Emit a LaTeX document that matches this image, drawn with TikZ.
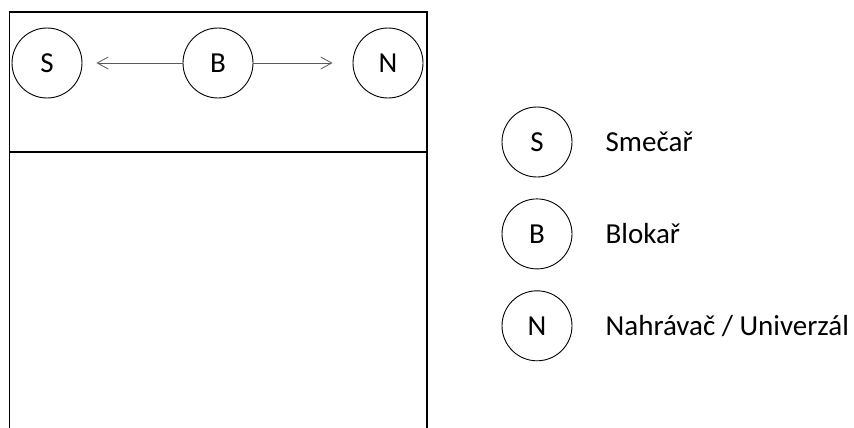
\documentclass[tikz,border=0pt]{standalone}
\usepackage{fontspec}
\setmainfont{Carlito}
\usetikzlibrary{positioning,arrows.meta}
\definecolor{arrowgray}{RGB}{90,90,90}
\tikzset{player/.style={circle,draw,line width=0.9pt,minimum size=70pt,inner sep=0pt,font=\fontsize{29}{34}\selectfont},
         role/.style={inner sep=0pt,text height=19pt,text depth=0pt,font=\fontsize{29}{34}\selectfont},
         move/.style={->,draw=arrowgray,line width=0.8pt,>={Straight Barb[length=11pt,width=12pt]}}}
\begin{document}
\begin{tikzpicture}[x=1pt,y=-1pt]
                   \useasboundingbox (0,0) rectangle (854,428);
                   \draw[line width=1.2pt] (9.5,440) -- (9.5,12) -- (427,12) -- (427,440);
                   \draw[line width=1.2pt] (9.5,152) -- (427,152);
                   \node[player] (S) at (47,63)  {S};
                   \node[player] (B) at (218,63) {B};
                   \node[player] (N) at (388,63) {N};
                   \draw[move,shorten >=14pt] (B) -- (S);
                   \draw[move,shorten >=20pt] (B) -- (N);
                   \node[player] (legS) at (537,142) {S};
                   \node[player] (legB) [below=21pt of legS] {B};
                   \node[player] (legN) [below=21pt of legB] {N};
                   \node[role] (txtS) [right=33pt of legS] {Smečař};
                   \node[role] (txtB) [right=33pt of legB] {Blokař};
                   \node[role] (txtN) [right=33pt of legN] {Nahrávač / Univerzál};
                \end{tikzpicture}
\end{document}
